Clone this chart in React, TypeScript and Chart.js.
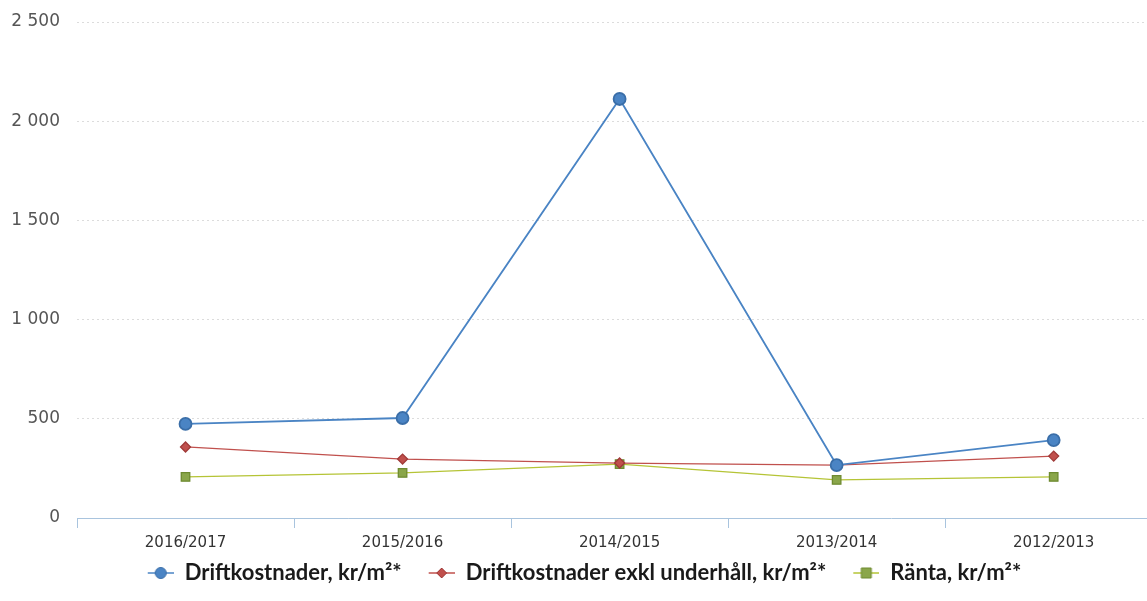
import React, { useEffect, useRef } from "react";
import { Chart, registerables } from "chart.js";
Chart.register(...registerables);

const categories = ["2016/2017", "2015/2016", "2014/2015", "2013/2014", "2012/2013"];
const driftkostnader = [474, 504, 2112, 267, 393];
const driftExklUnderhall = [358, 297, 277, 267, 312];
const ranta = [207, 227, 272, 192, 207];
const seriesNames = ["Driftkostnader, kr/m²*", "Driftkostnader exkl underhåll, kr/m²*", "Ränta, kr/m²*"];
const yTicks = [0, 500, 1000, 1500, 2000, 2500];

const BLUE = "#4a84c4";
const RED = "#c0504d";
const GREEN_LINE = "#b5c436";
const GREEN_FILL = "#8aa64a";

const ICON_PAD = 17;
const ICON_W = 26;

function legendIcon(kind: string, line: string, fill: string, border: string): HTMLCanvasElement {
  const c = document.createElement("canvas");
  c.width = ICON_PAD + ICON_W;
  c.height = 16;
  const ctx = c.getContext("2d")!;
  const x0 = ICON_PAD;
  const cx = x0 + ICON_W / 2;
  ctx.strokeStyle = line;
  ctx.lineWidth = 1.5;
  ctx.beginPath();
  ctx.moveTo(x0, 8);
  ctx.lineTo(x0 + ICON_W, 8);
  ctx.stroke();
  ctx.fillStyle = fill;
  ctx.strokeStyle = border;
  ctx.lineWidth = 1;
  ctx.beginPath();
  if (kind === "circle") ctx.arc(cx, 8, 5.5, 0, Math.PI * 2);
  else if (kind === "diamond") {
    ctx.moveTo(cx, 3);
    ctx.lineTo(cx + 5, 8);
    ctx.lineTo(cx, 13);
    ctx.lineTo(cx - 5, 8);
    ctx.closePath();
  } else ctx.rect(cx - 5, 3, 10, 10);
  ctx.fill();
  ctx.stroke();
  return c;
}

export default function App() {
  const ref = useRef<HTMLCanvasElement>(null);
  useEffect(() => {
    document.body.style.overflow = "hidden";
    const icons = [
      legendIcon("circle", BLUE, BLUE, "#3a6ea8"),
      legendIcon("diamond", RED, RED, "#a03a38"),
      legendIcon("square", GREEN_LINE, GREEN_FILL, "#6e8a30"),
    ];
    const chart = new Chart(ref.current!, {
      type: "line",
      data: {
        labels: categories,
        datasets: [
          {
            label: seriesNames[0],
            data: driftkostnader,
            borderColor: BLUE,
            backgroundColor: BLUE,
            pointBorderColor: "#3a6ea8",
            pointStyle: "circle",
            pointRadius: 6,
            borderWidth: 1.8,
          },
          {
            label: seriesNames[1],
            data: driftExklUnderhall,
            borderColor: RED,
            backgroundColor: RED,
            pointBorderColor: "#a03a38",
            pointStyle: "rectRot",
            pointRadius: 5,
            borderWidth: 1.3,
          },
          {
            label: seriesNames[2],
            data: ranta,
            borderColor: GREEN_LINE,
            backgroundColor: GREEN_FILL,
            pointBorderColor: "#6e8a30",
            pointStyle: "rect",
            pointRadius: 6,
            borderWidth: 1.3,
          },
        ],
      },
      options: {
        animation: false,
        responsive: false,
        maintainAspectRatio: false,
        layout: { padding: { top: 22, left: -12, right: 6, bottom: 7 } },
        plugins: {
          tooltip: { enabled: false },
          legend: {
            position: "bottom",
            labels: {
              usePointStyle: true,
              pointStyleWidth: ICON_PAD + ICON_W,
              padding: 10,
              color: "#1a1a1a",
              font: { family: "Lato", size: 22, weight: "bold" },
              generateLabels: (ch: any) =>
                ch.data.datasets.map((d: any, i: number) => ({
                  text: d.label,
                  pointStyle: icons[i],
                  fillStyle: d.backgroundColor,
                  strokeStyle: d.borderColor,
                  lineWidth: 0,
                  hidden: false,
                  datasetIndex: i,
                  fontColor: "#1a1a1a",
                })),
            },
          },
        },
        scales: {
          x: {
            offset: true,
            afterFit: (s: any) => {
              s.height = 34;
              s.paddingLeft = 0;
              s.paddingRight = 0;
            },
            grid: {
              offset: true,
              drawOnChartArea: false,
              drawTicks: true,
              tickLength: 10,
              color: "#a9c4de",
            },
            border: { display: true, color: "#a9c4de", dash: [2, 2] },
            ticks: { color: "#333", font: { family: "DejaVu Sans", size: 15 }, padding: 6 },
          },
          y: {
            min: 0,
            max: 2500,
            afterBuildTicks: (s: any) => {
              s.ticks = yTicks.map((v) => ({ value: v }));
            },
            afterFit: (s: any) => {
              s.width = 89;
              s.paddingTop = 0;
              s.paddingBottom = 0;
            },
            grid: { color: "#dcdcdc", drawTicks: false },
            border: { display: false, dash: [2, 3] },
            ticks: {
              color: "#555",
              font: { family: "DejaVu Sans", size: 17 },
              padding: 17,
              callback: (v: any) => String(v).replace(/\B(?=(\d{3})+(?!\d))/g, " "),
            },
          },
        },
      },
    } as any);
    return () => chart.destroy();
  }, []);
  return (
    <canvas
      ref={ref}
      width={1170}
      height={601}
      style={{ position: "absolute", left: 0, top: 0, width: 1170, height: 601 }}
    />
  );
}
